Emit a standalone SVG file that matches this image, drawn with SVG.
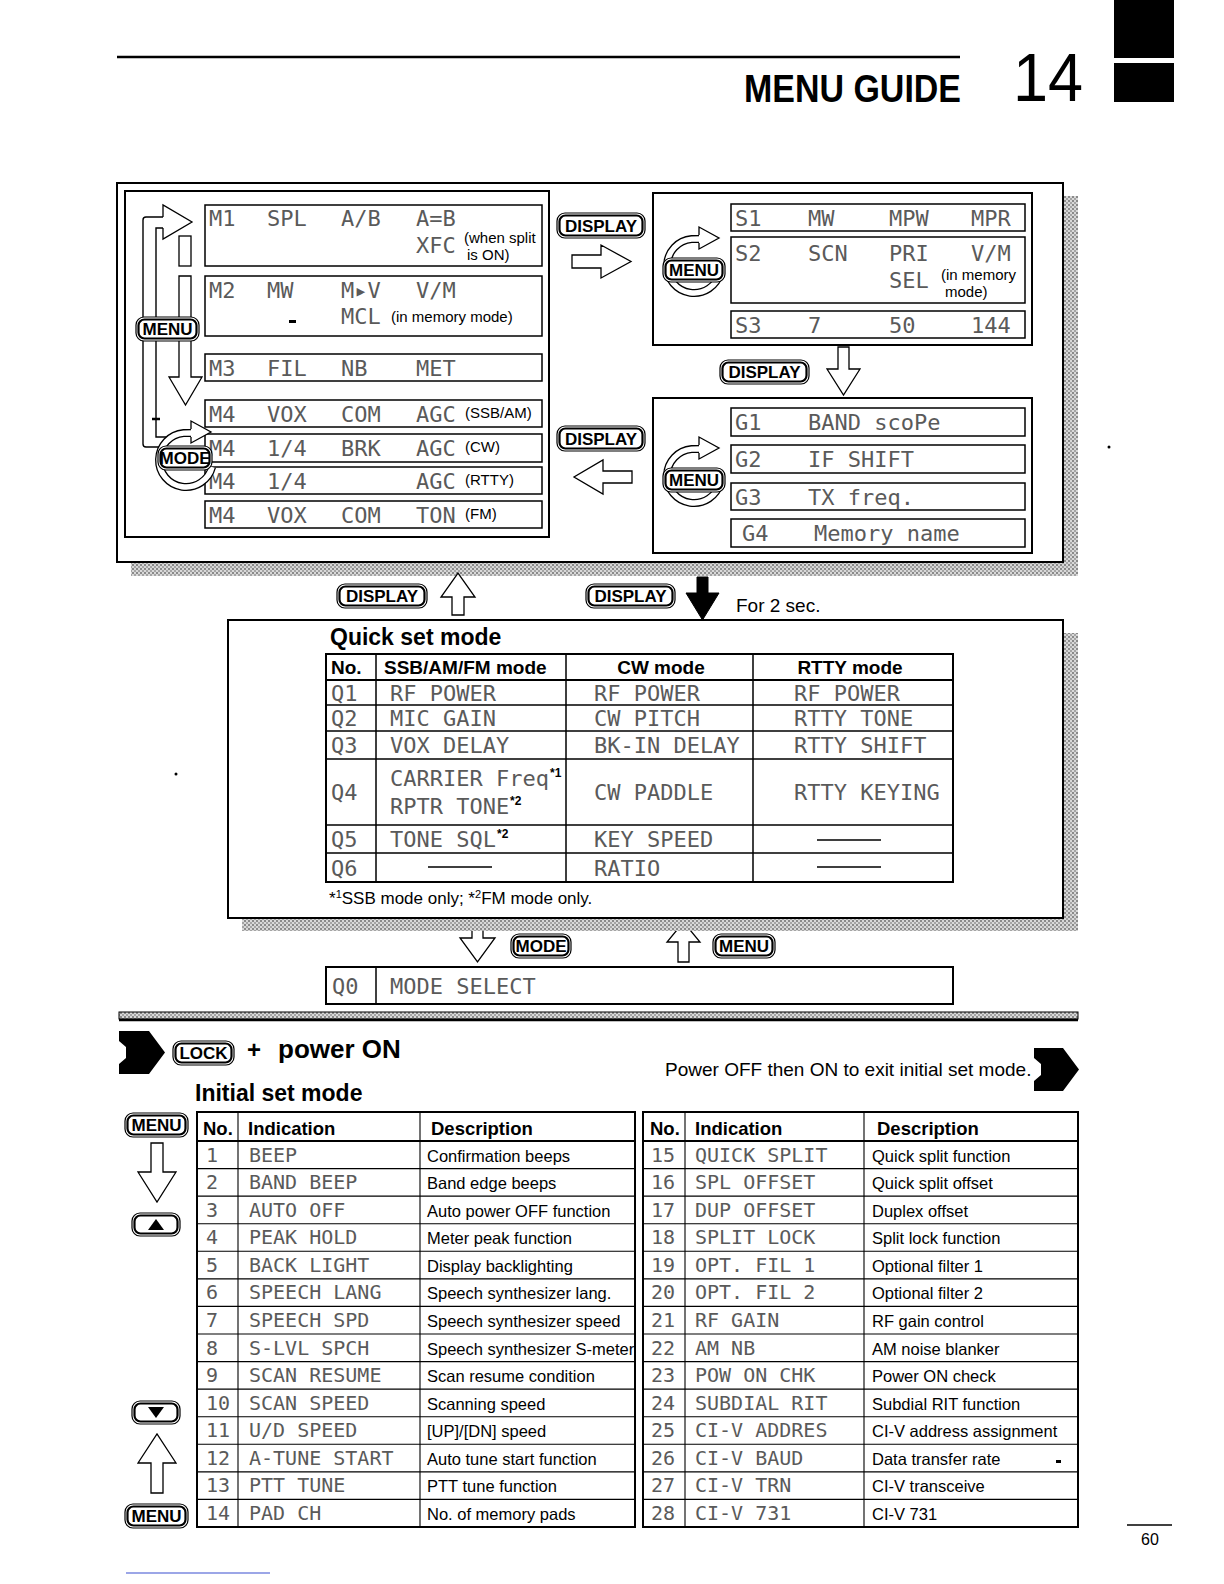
<svg xmlns="http://www.w3.org/2000/svg" xmlns:xlink="http://www.w3.org/1999/xlink" width="1224" height="1584" viewBox="0 0 1224 1584">
<style>
.sans{font-family:"Liberation Sans",Arial,sans-serif;fill:#000}
.b{font-family:"Liberation Sans",Arial,sans-serif;font-weight:bold;fill:#000}
.lcd{font-family:"DejaVu Sans Mono",monospace;font-size:22px;fill:#5a5a5a}
.lcd2{font-family:"DejaVu Sans Mono",monospace;font-size:20px;fill:#5a5a5a}
.par{font-family:"Liberation Sans",Arial,sans-serif;font-size:15px;fill:#000}
.frame{fill:#fff;stroke:#000;stroke-width:2}
.cell{fill:none;stroke:#000;stroke-width:1.5}
.thin{fill:none;stroke:#000;stroke-width:1.1}
.ol{fill:#fff;stroke:#000;stroke-width:1.2}
.il{fill:none;stroke:#000;stroke-width:2.2}
.bt{font-family:"Liberation Sans",Arial,sans-serif;font-weight:bold;font-size:17px;text-anchor:middle;fill:#000}
.ha{fill:#fff;stroke:#000;stroke-width:1.3;stroke-linejoin:miter}
.ln{fill:none;stroke:#000;stroke-width:1.4}
.shadow{fill:url(#stip)}
</style>
<defs>
<pattern id="stip" width="4" height="4" patternUnits="userSpaceOnUse">
<rect width="4" height="4" fill="#d8d8d8"/><rect width="2" height="2" fill="#8a8a8a"/><rect x="2" y="2" width="2" height="2" fill="#a4a4a4"/>
</pattern>
<g id="rot">
<path d="M26.1 7 A27 27 0 1 1 -2.4 -26.9 L6 -27" fill="none" stroke="#000" stroke-width="8"/>
<path d="M26.1 7 A27 27 0 1 1 -2.4 -26.9 L6 -27" fill="none" stroke="#fff" stroke-width="5.4"/>
<path d="M5 -31 L5 -39 L25 -28 L5 -17 L5 -23" class="ha"/>
</g>
</defs>
<rect width="1224" height="1584" fill="#fff"/>

<g id="header">
<line x1="117" y1="57" x2="960" y2="57" stroke="#000" stroke-width="2.5"/>
<text x="961" y="102" class="b" font-size="38" text-anchor="end" textLength="217" lengthAdjust="spacingAndGlyphs">MENU GUIDE</text>
<text x="1013" y="101" class="sans" font-size="68" textLength="70" lengthAdjust="spacingAndGlyphs">14</text>
<rect x="1114" y="0" width="60" height="58" fill="#000"/>
<rect x="1114" y="63" width="60" height="39" fill="#000"/>
</g>

<g id="top-section">
<rect x="1063" y="196" width="15" height="380" class="shadow"/>
<rect x="131" y="562" width="947" height="14" class="shadow"/>
<rect x="117" y="183" width="946" height="379" class="frame"/>
</g>

<g id="menu-panel">
<rect x="125" y="191" width="424" height="346" class="frame"/>
<rect x="205" y="205" width="337" height="61" class="cell"/>
<text class="lcd" y="226"><tspan x="209">M1</tspan><tspan x="267">SPL</tspan><tspan x="341">A/B</tspan><tspan x="416">A=B</tspan></text>
<text class="lcd" x="416" y="253">XFC</text>
<text class="par" x="464" y="243">(when split</text>
<text class="par" x="467" y="260">is ON)</text>
<rect x="205" y="276" width="337" height="60" class="cell"/>
<text class="lcd" y="298"><tspan x="209">M2</tspan><tspan x="267">MW</tspan><tspan x="341">M▸V</tspan><tspan x="416">V/M</tspan></text>
<rect x="289" y="320" width="7" height="3" fill="#000"/>
<text class="lcd" x="341" y="324">MCL</text>
<text class="par" x="391" y="322">(in memory mode)</text>
<rect x="205" y="354" width="337" height="27" class="cell"/>
<text class="lcd" y="375.5"><tspan x="209">M3</tspan><tspan x="267">FIL</tspan><tspan x="341">NB</tspan><tspan x="416">MET</tspan></text>
<rect x="205" y="400" width="337" height="27" class="cell"/>
<text class="lcd" y="421.5"><tspan x="209">M4</tspan><tspan x="267">VOX</tspan><tspan x="341">COM</tspan><tspan x="416">AGC</tspan></text>
<text class="par" x="465" y="418">(SSB/AM)</text>
<rect x="205" y="434" width="337" height="28" class="cell"/>
<text class="lcd" y="456"><tspan x="209">M4</tspan><tspan x="267">1/4</tspan><tspan x="341">BRK</tspan><tspan x="416">AGC</tspan></text>
<text class="par" x="465" y="452">(CW)</text>
<rect x="205" y="467" width="337" height="27" class="cell"/>
<text class="lcd" y="488.5"><tspan x="209">M4</tspan><tspan x="267">1/4</tspan><tspan x="416">AGC</tspan></text>
<text class="par" x="465" y="485">(RTTY)</text>
<rect x="205" y="501" width="337" height="27" class="cell"/>
<text class="lcd" y="522.5"><tspan x="209">M4</tspan><tspan x="267">VOX</tspan><tspan x="341">COM</tspan><tspan x="416">TON</tspan></text>
<text class="par" x="465" y="519">(FM)</text>
</g>

<g id="set-panel">
<rect x="653" y="193" width="379" height="152" class="frame"/>
<rect x="731" y="204" width="294" height="27" class="cell"/>
<text class="lcd" y="225.5"><tspan x="735">S1</tspan><tspan x="808">MW</tspan><tspan x="889">MPW</tspan><tspan x="971">MPR</tspan></text>
<rect x="731" y="237" width="294" height="66" class="cell"/>
<text class="lcd" y="261"><tspan x="735">S2</tspan><tspan x="808">SCN</tspan><tspan x="889">PRI</tspan><tspan x="971">V/M</tspan></text>
<text class="lcd" x="889" y="288">SEL</text>
<text class="par" x="941" y="280">(in memory</text>
<text class="par" x="945" y="297">mode)</text>
<rect x="731" y="311" width="294" height="27" class="cell"/>
<text class="lcd" y="332.5"><tspan x="735">S3</tspan><tspan x="808">7</tspan><tspan x="889">50</tspan><tspan x="971">144</tspan></text>
<use xlink:href="#rot" href="#rot" x="694" y="266"/>
<rect x="663" y="258" width="62" height="24" rx="8" class="ol"/><rect x="665.5" y="260.5" width="57" height="19" rx="6" class="il"/><text x="694" y="276" class="bt">MENU</text>
</g>

<g id="group-panel">
<rect x="653" y="398" width="379" height="155" class="frame"/>
<rect x="731" y="408" width="294" height="28" class="cell"/>
<text class="lcd" y="430"><tspan x="735">G1</tspan><tspan x="808">BAND scoPe</tspan></text>
<rect x="731" y="445" width="294" height="28" class="cell"/>
<text class="lcd" y="467"><tspan x="735">G2</tspan><tspan x="808">IF SHIFT</tspan></text>
<rect x="731" y="483" width="294" height="27" class="cell"/>
<text class="lcd" y="504.5"><tspan x="735">G3</tspan><tspan x="808">TX freq.</tspan></text>
<rect x="731" y="519" width="294" height="28" class="cell"/>
<text class="lcd" y="541"><tspan x="742">G4</tspan><tspan x="814">Memory name</tspan></text>
<use xlink:href="#rot" href="#rot" x="694" y="476"/>
<rect x="663" y="468" width="62" height="24" rx="8" class="ol"/><rect x="665.5" y="470.5" width="57" height="19" rx="6" class="il"/><text x="694" y="486" class="bt">MENU</text>
</g>

<g id="connectors">
<path d="M163 447 H146 Q143 447 143 444 V220 Q143 217 146 217 H164" class="ln"/>
<path d="M172 437 H156 V228 H164" class="ln"/>
<line x1="152" y1="419" x2="160" y2="419" stroke="#000" stroke-width="2.5"/>
<path d="M163 217 V205 L192 222 L163 239 V228" class="ha"/>
<rect x="179" y="236" width="12" height="30" class="ha"/>
<path d="M179 276 H191 V377 H202 L185.5 405 L169 377 H179 Z" class="ha"/>
<use xlink:href="#rot" href="#rot" x="186" y="460"/>
<path d="M572 255 H601 V245 L631 261.5 L601 278 V268 H572 Z" class="ha"/>
<path d="M632 471 H603 V460 L574 477 L603 494 V483 H632 Z" class="ha"/>
<path d="M838 347 H849 V369 H860 L843.5 395 L827 369 H838 Z" class="ha"/>
<path d="M452 615 V597 H441 L458 573 L475 597 H464 V615 Z" class="ha"/>
<path d="M697 577 H708 V593 H719 L702.5 620 L686 593 H697 Z" fill="#000" stroke="#000" stroke-width="1"/>
<path d="M291 881 H251 Q248 881 248 878 V688 Q248 685 251 685 H267" class="ln"/>
<path d="M291 868 H262 V697 H267" class="ln"/>
<path d="M266 685 V675 L293 690 L266 705 V697" class="ha"/>
<rect x="293" y="682" width="12" height="21" class="ha"/>
<rect x="293" y="708" width="12" height="22" class="ha"/>
<rect x="293" y="735" width="12" height="87" class="ha"/>
<path d="M293 828 H305 V855 H318 L300.5 884 L283 855 H293 Z" class="ha"/>
<path d="M1001 738 V718 H991 L1007.5 697 L1024 718 H1014 V738 Z" class="ha"/>
<path d="M1001 802 H1014 V822 H1024 L1007.5 844 L991 822 H1001 Z" class="ha"/>
<path d="M472 921 H483 V938 H495 L477.5 962 L460 938 H472 Z" class="ha"/>
<path d="M678 962 V942 H667 L683.5 922 L700 942 H689 V962 Z" class="ha"/>
<path d="M151 1143 H163 V1172 H176 L157 1202 L138 1172 H151 Z" class="ha"/>
<path d="M151 1493 V1463 H138 L157 1434 L176 1463 H163 V1493 Z" class="ha"/>
</g>

<g id="badges">
<g id="b-display1"><rect x="557" y="213" width="88" height="25" rx="8" class="ol"/><rect x="559.5" y="215.5" width="83" height="20" rx="6" class="il"/><text x="601" y="231.5" class="bt">DISPLAY</text></g>
<g id="b-display2"><rect x="557" y="426" width="88" height="25" rx="8" class="ol"/><rect x="559.5" y="428.5" width="83" height="20" rx="6" class="il"/><text x="601" y="444.5" class="bt">DISPLAY</text></g>
<g id="b-display3"><rect x="720" y="360" width="89" height="24" rx="8" class="ol"/><rect x="722.5" y="362.5" width="84" height="19" rx="6" class="il"/><text x="764.5" y="378" class="bt">DISPLAY</text></g>
<g id="b-display4"><rect x="337" y="584" width="90" height="24" rx="8" class="ol"/><rect x="339.5" y="586.5" width="85" height="19" rx="6" class="il"/><text x="382" y="602" class="bt">DISPLAY</text></g>
<g id="b-display5"><rect x="586" y="584" width="89" height="24" rx="8" class="ol"/><rect x="588.5" y="586.5" width="84" height="19" rx="6" class="il"/><text x="630.5" y="602" class="bt">DISPLAY</text></g>
<g id="b-menu1"><rect x="136" y="317" width="63" height="24" rx="8" class="ol"/><rect x="138.5" y="319.5" width="58" height="19" rx="6" class="il"/><text x="167.5" y="335" class="bt">MENU</text></g>
<g id="b-mode1"><rect x="158" y="446" width="54" height="24" rx="8" class="ol"/><rect x="160.5" y="448.5" width="49" height="19" rx="6" class="il"/><text x="185" y="463.5" class="bt" font-size="15">MODE</text></g>
<g id="b-menu-q"><rect x="249" y="756" width="63" height="26" rx="8" class="ol"/><rect x="251.5" y="758.5" width="58" height="21" rx="6" class="il"/><text x="280.5" y="775" class="bt">MENU</text></g>
<g id="b-mode2"><rect x="511" y="934" width="60" height="24" rx="8" class="ol"/><rect x="513.5" y="936.5" width="55" height="19" rx="6" class="il"/><text x="541" y="952" class="bt">MODE</text></g>
<g id="b-menu2"><rect x="713" y="934" width="62" height="24" rx="8" class="ol"/><rect x="715.5" y="936.5" width="57" height="19" rx="6" class="il"/><text x="744" y="952" class="bt">MENU</text></g>
<g id="b-lock"><rect x="173" y="1041" width="61" height="24" rx="8" class="ol"/><rect x="175.5" y="1043.5" width="56" height="19" rx="6" class="il"/><text x="203.5" y="1059" class="bt">LOCK</text></g>
<g id="b-menu3"><rect x="125" y="1113" width="63" height="24" rx="8" class="ol"/><rect x="127.5" y="1115.5" width="58" height="19" rx="6" class="il"/><text x="156.5" y="1131" class="bt">MENU</text></g>
<g id="b-menu4"><rect x="125" y="1504" width="63" height="24" rx="8" class="ol"/><rect x="127.5" y="1506.5" width="58" height="19" rx="6" class="il"/><text x="156.5" y="1522" class="bt">MENU</text></g>
<g id="k-down-q"><rect x="985" y="661" width="41" height="22" rx="8" class="ol"/><rect x="987.5" y="663.5" width="36" height="17" rx="6" class="il"/><path d="M998.5 667 H1012.5 L1005.5 678 Z" fill="#000"/></g>
<g id="k-up-q"><rect x="985" y="864" width="41" height="22" rx="8" class="ol"/><rect x="987.5" y="866.5" width="36" height="17" rx="6" class="il"/><path d="M998.5 880 H1012.5 L1005.5 869 Z" fill="#000"/></g>
<g id="k-up-i"><rect x="132" y="1213" width="48" height="23" rx="8" class="ol"/><rect x="134.5" y="1215.5" width="43" height="18" rx="6" class="il"/><path d="M148 1230 H164 L156 1219 Z" fill="#000"/></g>
<g id="k-down-i"><rect x="132" y="1401" width="48" height="23" rx="8" class="ol"/><rect x="134.5" y="1403.5" width="43" height="18" rx="6" class="il"/><path d="M148 1407 H164 L156 1418 Z" fill="#000"/></g>
<g id="k-mch"><circle cx="1008" cy="769" r="29" class="ol"/><circle cx="1008" cy="769" r="26" class="il"/><text x="1008" y="775" class="bt" font-size="15">M-CH</text></g>
</g>

<text x="736" y="612" class="sans" font-size="19">For 2 sec.</text>

<g id="quick-set">
<rect x="1063" y="633" width="15" height="298" class="shadow"/>
<rect x="242" y="918" width="836" height="13" class="shadow"/>
<rect x="228" y="620" width="835" height="298" class="frame"/>
<text x="330" y="645" class="b" font-size="23">Quick set mode</text>
<rect x="326" y="654" width="627" height="228" fill="none" stroke="#000" stroke-width="2"/>
<line x1="326" y1="680" x2="953" y2="680" stroke="#000" stroke-width="2"/>
<path d="M326 705 H953 M326 731 H953 M326 759 H953 M326 825 H953 M326 853 H953 M376 654 V882 M566 654 V882 M753 654 V882" class="cell"/>
<text class="b" font-size="19" y="674"><tspan x="331">No.</tspan><tspan x="384">SSB/AM/FM mode</tspan></text>
<text class="b" font-size="19" y="674" x="661" text-anchor="middle">CW mode</text>
<text class="b" font-size="19" y="674" x="850" text-anchor="middle">RTTY mode</text>
<text class="lcd" y="700.5"><tspan x="331">Q1</tspan><tspan x="390">RF POWER</tspan><tspan x="594">RF POWER</tspan><tspan x="794">RF POWER</tspan></text>
<text class="lcd" y="726"><tspan x="331">Q2</tspan><tspan x="390">MIC GAIN</tspan><tspan x="594">CW PITCH</tspan><tspan x="794">RTTY TONE</tspan></text>
<text class="lcd" y="753"><tspan x="331">Q3</tspan><tspan x="390">VOX DELAY</tspan><tspan x="594">BK-IN DELAY</tspan><tspan x="794">RTTY SHIFT</tspan></text>
<text class="lcd" y="800"><tspan x="331">Q4</tspan><tspan x="594">CW PADDLE</tspan><tspan x="794">RTTY KEYING</tspan></text>
<text class="lcd" x="390" y="786">CARRIER Freq</text>
<text class="b" font-size="12" x="550" y="777">*1</text>
<text class="lcd" x="390" y="814">RPTR TONE</text>
<text class="b" font-size="12" x="510" y="805">*2</text>
<text class="lcd" y="847"><tspan x="331">Q5</tspan><tspan x="390">TONE SQL</tspan><tspan x="594">KEY SPEED</tspan></text>
<text class="b" font-size="12" x="497" y="838">*2</text>
<text class="lcd" y="875.5"><tspan x="331">Q6</tspan><tspan x="594">RATIO</tspan></text>
<path d="M817 840 H881 M428 867 H492 M817 867 H881" stroke="#000" stroke-width="1.5"/>
<text class="sans" font-size="17" x="329" y="904">*<tspan font-size="11" dy="-6">1</tspan><tspan dy="6">SSB mode only; *</tspan><tspan font-size="11" dy="-6">2</tspan><tspan dy="6">FM mode only.</tspan></text>
</g>

<g id="mode-select">
<rect x="326" y="967" width="627" height="37" fill="#fff" stroke="#000" stroke-width="2"/>
<line x1="376" y1="967" x2="376" y2="1004" class="cell"/>
<text class="lcd" y="994"><tspan x="332">Q0</tspan><tspan x="390">MODE SELECT</tspan></text>
</g>

<g id="separator">
<rect x="119" y="1012" width="959" height="7" fill="url(#stip)" stroke="#000" stroke-width="1"/>
<line x1="119" y1="1020" x2="1078" y2="1020" stroke="#000" stroke-width="2.5"/>
</g>

<g id="initial-head">
<path d="M119 1031 H149 L165 1052.5 L149 1074 H119 V1064 L126 1058 V1047 L119 1041 Z" fill="#000"/>
<text x="247" y="1058" class="b" font-size="24">+</text>
<text x="278" y="1058" class="b" font-size="26">power ON</text>
<text x="665" y="1076" class="sans" font-size="19">Power OFF then ON to exit initial set mode.</text>
<path d="M1034 1048 H1063 L1079 1069.5 L1063 1091 H1034 V1081 L1041 1075 V1064 L1034 1058 Z" fill="#000"/>
<text x="195" y="1101" class="b" font-size="23">Initial set mode</text>
</g>

<g id="initial-table-left">
<rect x="197" y="1112" width="438" height="415" fill="none" stroke="#000" stroke-width="2"/>
<line x1="197" y1="1141" x2="635" y2="1141" stroke="#000" stroke-width="2"/>
<path d="M238 1112 V1527 M420 1112 V1527 M197 1168.6 H635 M197 1196.1 H635 M197 1223.7 H635 M197 1251.3 H635 M197 1278.9 H635 M197 1306.4 H635 M197 1334 H635 M197 1361.6 H635 M197 1389.1 H635 M197 1416.7 H635 M197 1444.3 H635 M197 1471.9 H635 M197 1499.4 H635" class="thin"/>
<text class="b" font-size="18.5" y="1135"><tspan x="203">No.</tspan><tspan x="248">Indication</tspan><tspan x="431">Description</tspan></text>
<g class="lcd2">
<text x="206" y="1161.5">1</text><text x="249" y="1161.5">BEEP</text>
<text x="206" y="1189">2</text><text x="249" y="1189">BAND BEEP</text>
<text x="206" y="1216.6">3</text><text x="249" y="1216.6">AUTO OFF</text>
<text x="206" y="1244.2">4</text><text x="249" y="1244.2">PEAK HOLD</text>
<text x="206" y="1271.8">5</text><text x="249" y="1271.8">BACK LIGHT</text>
<text x="206" y="1299.4">6</text><text x="249" y="1299.4">SPEECH LANG</text>
<text x="206" y="1326.9">7</text><text x="249" y="1326.9">SPEECH SPD</text>
<text x="206" y="1354.5">8</text><text x="249" y="1354.5">S-LVL SPCH</text>
<text x="206" y="1382.1">9</text><text x="249" y="1382.1">SCAN RESUME</text>
<text x="206" y="1409.6">10</text><text x="249" y="1409.6">SCAN SPEED</text>
<text x="206" y="1437.2">11</text><text x="249" y="1437.2">U/D SPEED</text>
<text x="206" y="1464.8">12</text><text x="249" y="1464.8">A-TUNE START</text>
<text x="206" y="1492.4">13</text><text x="249" y="1492.4">PTT TUNE</text>
<text x="206" y="1519.9">14</text><text x="249" y="1519.9">PAD CH</text>
</g>
<g class="sans" font-size="16.5">
<text x="427" y="1161.5">Confirmation beeps</text>
<text x="427" y="1189">Band edge beeps</text>
<text x="427" y="1216.6">Auto power OFF function</text>
<text x="427" y="1244.2">Meter peak function</text>
<text x="427" y="1271.8">Display backlighting</text>
<text x="427" y="1299.4">Speech synthesizer lang.</text>
<text x="427" y="1326.9">Speech synthesizer speed</text>
<text x="427" y="1354.5">Speech synthesizer S-meter</text>
<text x="427" y="1382.1">Scan resume condition</text>
<text x="427" y="1409.6">Scanning speed</text>
<text x="427" y="1437.2">[UP]/[DN] speed</text>
<text x="427" y="1464.8">Auto tune start function</text>
<text x="427" y="1492.4">PTT tune function</text>
<text x="427" y="1519.9">No. of memory pads</text>
</g>
</g>

<g id="initial-table-right">
<rect x="643" y="1112" width="435" height="415" fill="none" stroke="#000" stroke-width="2"/>
<line x1="643" y1="1141" x2="1078" y2="1141" stroke="#000" stroke-width="2"/>
<path d="M685 1112 V1527 M864 1112 V1527 M643 1168.6 H1078 M643 1196.1 H1078 M643 1223.7 H1078 M643 1251.3 H1078 M643 1278.9 H1078 M643 1306.4 H1078 M643 1334 H1078 M643 1361.6 H1078 M643 1389.1 H1078 M643 1416.7 H1078 M643 1444.3 H1078 M643 1471.9 H1078 M643 1499.4 H1078" class="thin"/>
<text class="b" font-size="18.5" y="1135"><tspan x="650">No.</tspan><tspan x="695">Indication</tspan><tspan x="877">Description</tspan></text>
<g class="lcd2">
<text x="651" y="1161.5">15</text><text x="695" y="1161.5">QUICK SPLIT</text>
<text x="651" y="1189">16</text><text x="695" y="1189">SPL OFFSET</text>
<text x="651" y="1216.6">17</text><text x="695" y="1216.6">DUP OFFSET</text>
<text x="651" y="1244.2">18</text><text x="695" y="1244.2">SPLIT LOCK</text>
<text x="651" y="1271.8">19</text><text x="695" y="1271.8">OPT. FIL 1</text>
<text x="651" y="1299.4">20</text><text x="695" y="1299.4">OPT. FIL 2</text>
<text x="651" y="1326.9">21</text><text x="695" y="1326.9">RF GAIN</text>
<text x="651" y="1354.5">22</text><text x="695" y="1354.5">AM NB</text>
<text x="651" y="1382.1">23</text><text x="695" y="1382.1">POW ON CHK</text>
<text x="651" y="1409.6">24</text><text x="695" y="1409.6">SUBDIAL RIT</text>
<text x="651" y="1437.2">25</text><text x="695" y="1437.2">CI-V ADDRES</text>
<text x="651" y="1464.8">26</text><text x="695" y="1464.8">CI-V BAUD</text>
<text x="651" y="1492.4">27</text><text x="695" y="1492.4">CI-V TRN</text>
<text x="651" y="1519.9">28</text><text x="695" y="1519.9">CI-V 731</text>
</g>
<g class="sans" font-size="16.5">
<text x="872" y="1161.5">Quick split function</text>
<text x="872" y="1189">Quick split offset</text>
<text x="872" y="1216.6">Duplex offset</text>
<text x="872" y="1244.2">Split lock function</text>
<text x="872" y="1271.8">Optional filter 1</text>
<text x="872" y="1299.4">Optional filter 2</text>
<text x="872" y="1326.9">RF gain control</text>
<text x="872" y="1354.5">AM noise blanker</text>
<text x="872" y="1382.1">Power ON check</text>
<text x="872" y="1409.6">Subdial RIT function</text>
<text x="872" y="1437.2">CI-V address assignment</text>
<text x="872" y="1464.8">Data transfer rate</text>
<text x="872" y="1492.4">CI-V transceive</text>
<text x="872" y="1519.9">CI-V 731</text>
</g>
<rect x="1056" y="1460" width="5" height="3" fill="#000"/>
</g>

<g id="footer">
<line x1="1127" y1="1525" x2="1172" y2="1525" stroke="#000" stroke-width="1.6"/>
<text x="1141" y="1545" class="sans" font-size="16">60</text>
<line x1="126" y1="1573" x2="270" y2="1573" stroke="#3a4fd0" stroke-width="1.2"/>
<circle cx="1109" cy="447" r="1.5" fill="#000"/>
<circle cx="176" cy="774" r="1.5" fill="#000"/>
</g>
</svg>
